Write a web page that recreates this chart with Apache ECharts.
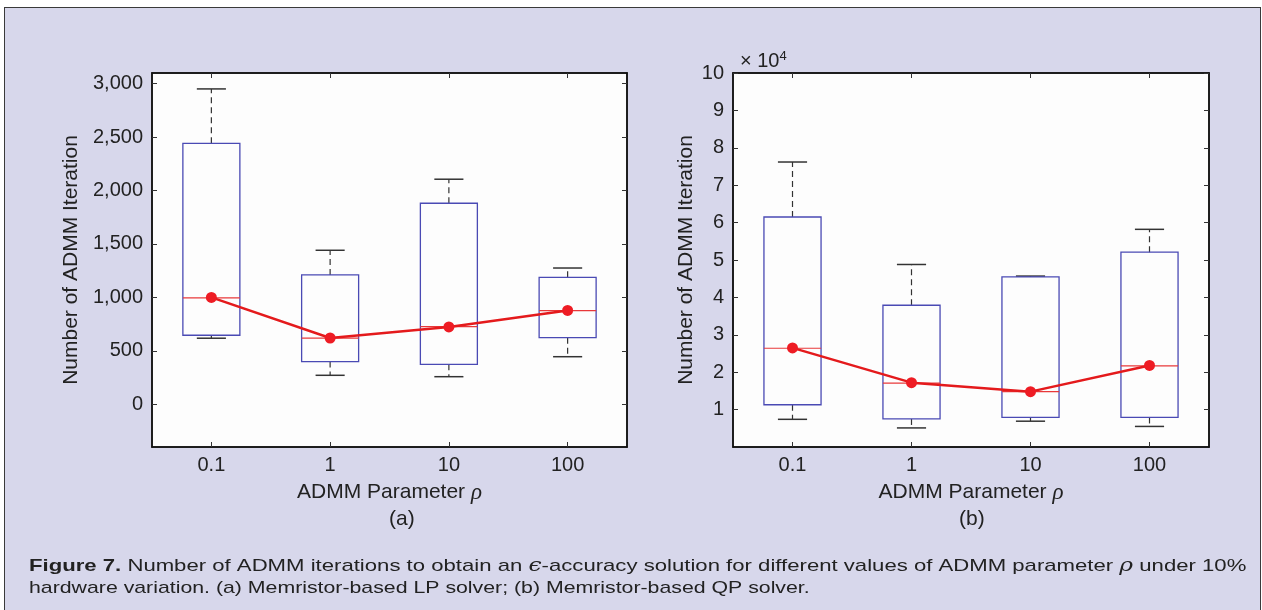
<!DOCTYPE html>
<html>
<head>
<meta charset="utf-8">
<script src="https://cdn.jsdelivr.net/npm/echarts@6/dist/echarts.min.js"></script>
<style>
html,body{margin:0;padding:0;background:#ffffff;}
#wrap{position:relative;width:1262px;height:610px;overflow:hidden;background:#ffffff;}
#frame{position:absolute;left:4px;top:7px;width:1255px;height:610px;border:1.5px solid #3a3a3a;background:#d7d7eb;}
#chart{position:absolute;left:0;top:0;width:1262px;height:610px;}
</style>
</head>
<body>
<div id="wrap"><div id="frame"></div><div id="chart"></div></div>
<script>
// ---- data ----
var categories = ['0.1', '1', '10', '100'];

// (a) Memristor-based LP solver
var lpLow    = [618, 271, 258, 445];
var lpQ1     = [646, 399, 374, 623];
var lpMedian = [995, 618, 726, 876];
var lpQ3     = [2442, 1210, 1881, 1188];
var lpHigh   = [2951, 1441, 2106, 1275];
var lpMean   = [1000, 620, 724, 878];

// (b) Memristor-based QP solver
var qpLow    = [7400, 5100, 6900, 5500];
var qpQ1     = [11300, 7500, 7900, 7900];
var qpMedian = [26400, 17100, 14800, 21700];
var qpQ3     = [61500, 37900, 45500, 52100];
var qpHigh   = [76200, 48800, 45700, 58200];
var qpMean   = [26500, 17200, 14800, 21800];

var lpTicks = [0, 500, 1000, 1500, 2000, 2500, 3000];
var qpTicks = [10000, 20000, 30000, 40000, 50000, 60000, 70000, 80000, 90000, 100000];

function boxData(lo, q1, me, q3, hi) {
  return categories.map(function (c, i) { return [i, lo[i], q1[i], me[i], q3[i], hi[i]]; });
}

var FONT = 'Liberation Sans, Arial, Helvetica, sans-serif';
var TXT = '#222222';

function renderBox(params, api) {
  var x = api.value(0);
  var pLow = api.coord([x, api.value(1)]);
  var pQ1 = api.coord([x, api.value(2)]);
  var pMed = api.coord([x, api.value(3)]);
  var pQ3 = api.coord([x, api.value(4)]);
  var pHigh = api.coord([x, api.value(5)]);
  var band = api.size([1, 0])[0];
  var bw = band * 0.48, cw = band * 0.245;
  var cx = pMed[0];
  var dash = {stroke: '#333333', lineWidth: 1.2, lineDash: [6, 4]};
  var cap = {stroke: '#333333', lineWidth: 1.5};
  return {
    type: 'group',
    children: [
      {type: 'line', shape: {x1: cx, y1: pQ3[1], x2: cx, y2: pHigh[1]}, style: dash},
      {type: 'line', shape: {x1: cx, y1: pQ1[1], x2: cx, y2: pLow[1]}, style: dash},
      {type: 'line', shape: {x1: cx - cw / 2, y1: pHigh[1], x2: cx + cw / 2, y2: pHigh[1]}, style: cap},
      {type: 'line', shape: {x1: cx - cw / 2, y1: pLow[1], x2: cx + cw / 2, y2: pLow[1]}, style: cap},
      {type: 'rect', shape: {x: cx - bw / 2, y: pQ3[1], width: bw, height: pQ1[1] - pQ3[1]},
        style: {fill: 'none', stroke: '#4a4ab4', lineWidth: 1.3}},
      {type: 'line', shape: {x1: cx - bw / 2, y1: pMed[1], x2: cx + bw / 2, y2: pMed[1]},
        style: {stroke: '#e8383a', lineWidth: 1.2}}
    ]
  };
}

var gridL = {left: 152, top: 73, width: 475, height: 374};
var gridR = {left: 733, top: 73, width: 476, height: 374};

function xAxes(gi) {
  return [
    {
      type: 'category', gridIndex: gi, data: categories, position: 'bottom',
      axisLine: {show: true, onZero: false, lineStyle: {color: '#111', width: 1.5}},
      axisTick: {show: true, inside: true, alignWithLabel: true, length: 5, lineStyle: {color: '#333'}},
      axisLabel: {color: TXT, fontFamily: FONT, fontSize: 20, margin: 8},
      splitLine: {show: false},
      name: '{n|ADMM Parameter }{r|ρ}', nameLocation: 'middle', nameGap: 34,
      nameTextStyle: {color: TXT, fontFamily: FONT, fontSize: 21,
        rich: {n: {fontFamily: FONT, fontSize: 21, color: TXT},
               r: {fontFamily: 'Liberation Serif, serif', fontStyle: 'italic', fontSize: 23, color: TXT}}}
    },
    {
      type: 'category', gridIndex: gi, data: categories, position: 'top',
      axisLine: {show: true, onZero: false, lineStyle: {color: '#111', width: 1.5}},
      axisTick: {show: true, inside: true, alignWithLabel: true, length: 5, lineStyle: {color: '#333'}},
      axisLabel: {show: false}, splitLine: {show: false}
    }
  ];
}

function yAxes(gi, min, max, ticks, fmt, nameGap) {
  return [
    {
      type: 'value', gridIndex: gi, min: min, max: max, position: 'left',
      axisLine: {show: true, onZero: false, lineStyle: {color: '#111', width: 1.5}},
      axisTick: {show: true, inside: true, length: 5, customValues: ticks, lineStyle: {color: '#333'}},
      axisLabel: {color: TXT, fontFamily: FONT, fontSize: 20, margin: 9, customValues: ticks, formatter: fmt},
      splitLine: {show: false},
      name: 'Number of ADMM Iteration', nameLocation: 'middle', nameGap: nameGap,
      nameTextStyle: {color: TXT, fontFamily: FONT, fontSize: 21}
    },
    {
      type: 'value', gridIndex: gi, min: min, max: max, position: 'right',
      axisLine: {show: true, onZero: false, lineStyle: {color: '#111', width: 1.5}},
      axisTick: {show: true, inside: true, length: 5, customValues: ticks, lineStyle: {color: '#333'}},
      axisLabel: {show: false}, splitLine: {show: false}
    }
  ];
}

function fmtComma(v) { return String(v).replace(/\B(?=(\d{3})+(?!\d))/g, ','); }
function fmtE4(v) { return String(Math.round(v / 10000)); }

var chart = echarts.init(document.getElementById('chart'), null, {renderer: 'canvas'});
chart.setOption({
  backgroundColor: 'transparent',
  animation: false,
  grid: [
    Object.assign({show: true, backgroundColor: '#fdfdfd', borderColor: '#111', borderWidth: 1.5}, gridL),
    Object.assign({show: true, backgroundColor: '#fdfdfd', borderColor: '#111', borderWidth: 1.5}, gridR)
  ],
  xAxis: xAxes(0).concat(xAxes(1)),
  yAxis: yAxes(0, -400, 3100, lpTicks, fmtComma, 70).concat(yAxes(1, 0, 100000, qpTicks, fmtE4, 36)),
  series: [
    {type: 'custom', xAxisIndex: 0, yAxisIndex: 0, renderItem: renderBox,
      encode: {x: 0, y: [1, 2, 3, 4, 5]}, data: boxData(lpLow, lpQ1, lpMedian, lpQ3, lpHigh), z: 2},
    {type: 'line', xAxisIndex: 0, yAxisIndex: 0, data: lpMean, symbol: 'circle', symbolSize: 11,
      lineStyle: {color: '#e41a1c', width: 2.5}, itemStyle: {color: '#ee1c24'}, z: 5},
    {type: 'custom', xAxisIndex: 2, yAxisIndex: 2, renderItem: renderBox,
      encode: {x: 0, y: [1, 2, 3, 4, 5]}, data: boxData(qpLow, qpQ1, qpMedian, qpQ3, qpHigh), z: 2},
    {type: 'line', xAxisIndex: 2, yAxisIndex: 2, data: qpMean, symbol: 'circle', symbolSize: 11,
      lineStyle: {color: '#e41a1c', width: 2.5}, itemStyle: {color: '#ee1c24'}, z: 5}
  ],
  graphic: [
    {type: 'text', left: 389, top: 509, style: {text: '(a)', font: '21px ' + FONT, fill: TXT}},
    {type: 'text', left: 959, top: 509, style: {text: '(b)', font: '21px ' + FONT, fill: TXT}},
    {type: 'text', x: 740, y: 50, style: {
      text: '× 10{s|4}', font: '20px ' + FONT, fill: TXT,
      rich: {s: {fontSize: 13, fontFamily: FONT, fill: TXT, verticalAlign: 'top', padding: [0, 0, 10, 0]}}}},
    {type: 'text', x: 29, y: 557, scaleX: 1.302, style: {
      text: '{b|Figure 7.} Number of ADMM iterations to obtain an {i|ϵ}-accuracy solution for different values of ADMM parameter {i|ρ} under 10%',
      font: '17px ' + FONT, fill: TXT,
      rich: {b: {fontWeight: 'bold', fontSize: 17, fontFamily: FONT, fill: TXT},
             i: {fontStyle: 'italic', fontSize: 18, fontFamily: 'DejaVu Serif, serif', fill: TXT}}}},
    {type: 'text', x: 29, y: 580, scaleX: 1.252, style: {
      text: 'hardware variation. (a) Memristor-based LP solver; (b) Memristor-based QP solver.',
      font: '17px ' + FONT, fill: TXT}}
  ]
});
</script>
</body>
</html>
